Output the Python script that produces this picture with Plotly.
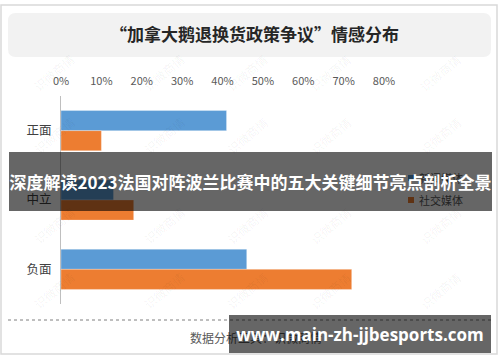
import plotly.graph_objects as go

W, H = 500, 362
def px(x): return x / W
def py(y): return 1 - y / H

categories = ["正面", "中立", "负面"]
series_names = ["新闻媒体", "社交媒体"]
news_values = [0.41, 0.13, 0.46]
social_values = [0.10, 0.18, 0.72]
colors = ["#5B9BD5", "#ED7D31"]
tick_vals = [0, 0.1, 0.2, 0.3, 0.4, 0.5, 0.6, 0.7, 0.8]

title_text = "“加拿大鹅退换货政策争议”情感分布"
banner_text = "深度解读2023法国对阵波兰比赛中的五大关键细节亮点剖析全景"
source_text = "数据分析工具：识微商情"
site_text = "www.main-zh-jjbesports.com"
wm_text = "识微商情"

CJK = "Noto Sans CJK SC"

fig = go.Figure()
fig.add_trace(go.Bar(y=categories, x=news_values, name=series_names[0], orientation="h",
                     marker=dict(color=colors[0], line=dict(width=0.6, color="rgba(255,255,255,0.5)")),
                     showlegend=False))
fig.add_trace(go.Bar(y=categories, x=social_values, name=series_names[1], orientation="h",
                     marker=dict(color=colors[1], line=dict(width=0.6, color="rgba(255,255,255,0.5)")),
                     showlegend=False))

shapes = []
# outer border
shapes.append(dict(type="rect", xref="paper", yref="paper", x0=px(1), x1=px(497), y0=py(354), y1=py(5),
                   line=dict(color="#d9d9d9", width=1.5), fillcolor="rgba(0,0,0,0)", layer="below"))
# rounded title box
x0, x1, y0, y1, r = 8, 491, 13, 57, 8
path = (f"M {px(x0+r)} {py(y0)} L {px(x1-r)} {py(y0)} Q {px(x1)} {py(y0)} {px(x1)} {py(y0+r)} "
        f"L {px(x1)} {py(y1-r)} Q {px(x1)} {py(y1)} {px(x1-r)} {py(y1)} "
        f"L {px(x0+r)} {py(y1)} Q {px(x0)} {py(y1)} {px(x0)} {py(y1-r)} "
        f"L {px(x0)} {py(y0+r)} Q {px(x0)} {py(y0)} {px(x0+r)} {py(y0)} Z")
shapes.append(dict(type="path", xref="paper", yref="paper", path=path,
                   fillcolor="#f2f2f2", line=dict(width=0), layer="below"))
# dotted separator
shapes.append(dict(type="line", xref="paper", yref="paper", x0=px(8), x1=px(491), y0=py(320), y1=py(320),
                   line=dict(color="#7f7f7f", width=1, dash="dot")))
# legend squares
for i, c in enumerate(colors):
    yc = 178 + 22 * i
    shapes.append(dict(type="rect", xref="paper", yref="paper", x0=px(408), x1=px(414),
                       y0=py(yc + 3), y1=py(yc - 3), fillcolor=c, line=dict(width=0), layer="above"))

annotations = []
# faint watermarks
for row, yy in enumerate([48, 135, 225, 315]):
    for col in range(5):
        xx = 27 + 110 * col
        annotations.append(dict(text=wm_text, xref="paper", yref="paper", x=px(xx), y=py(yy),
                                showarrow=False, textangle=-40,
                                font=dict(family=CJK, size=12, color="rgba(0,0,0,0.05)")))
# title
annotations.append(dict(text=f"<b>{title_text}</b>", xref="paper", yref="paper", x=px(254), y=py(34),
                        showarrow=False, xanchor="center", yanchor="middle",
                        font=dict(family=CJK, size=17, color="#262626")))
# legend texts
for i, n in enumerate(series_names):
    annotations.append(dict(text=n, xref="paper", yref="paper", x=px(417), y=py(178 + 22 * i),
                            showarrow=False, xanchor="left", yanchor="middle",
                            font=dict(family=CJK, size=11, color="#595959")))
# source
annotations.append(dict(text=source_text, xref="paper", yref="paper", x=px(188), y=py(337),
                        showarrow=False, xanchor="left", yanchor="middle",
                        font=dict(family=CJK, size=12, color="#595959")))
# banner overlay
annotations.append(dict(text=f"<b>{banner_text}</b>", xref="paper", yref="paper", x=px(250.5), y=py(181.5),
                        showarrow=False, xanchor="center", yanchor="middle",
                        width=483, height=59, bgcolor="rgba(0,0,0,0.6)", borderpad=0, borderwidth=0,
                        font=dict(family=CJK, size=17, color="white")))
# site watermark box
annotations.append(dict(text=f"<b>{site_text}</b>", xref="paper", yref="paper", x=px(360), y=py(334),
                        showarrow=False, xanchor="center", yanchor="middle",
                        width=262, height=38, bgcolor="rgba(0,0,0,0.6)", borderpad=0, borderwidth=0,
                        font=dict(family="Open Sans", size=17, color="white")))

fig.update_layout(
    width=W, height=H, margin=dict(l=0, r=0, t=0, b=0, autoexpand=False),
    paper_bgcolor="white", plot_bgcolor="rgba(0,0,0,0)",
    barmode="group", bargap=0.42, bargroupgap=0,
    showlegend=False,
    xaxis=dict(domain=[px(61), px(384)], range=[0, 0.8], side="top", tickvals=tick_vals,
               tickformat=".0%", showgrid=False, zeroline=False, showline=False, ticks="",
               ticklabelstandoff=8, fixedrange=True, automargin=False,
               tickfont=dict(family=CJK, size=11, color="#595959")),
    yaxis=dict(domain=[py(304), py(96)], autorange="reversed", showgrid=False, zeroline=False,
               showline=True, linecolor="#bfbfbf", linewidth=1, ticks="", ticklabelstandoff=6,
               automargin=False,
               tickfont=dict(family=CJK, size=12.5, color="#404040")),
    shapes=shapes, annotations=annotations,
)

fig.write_html("out.html")
